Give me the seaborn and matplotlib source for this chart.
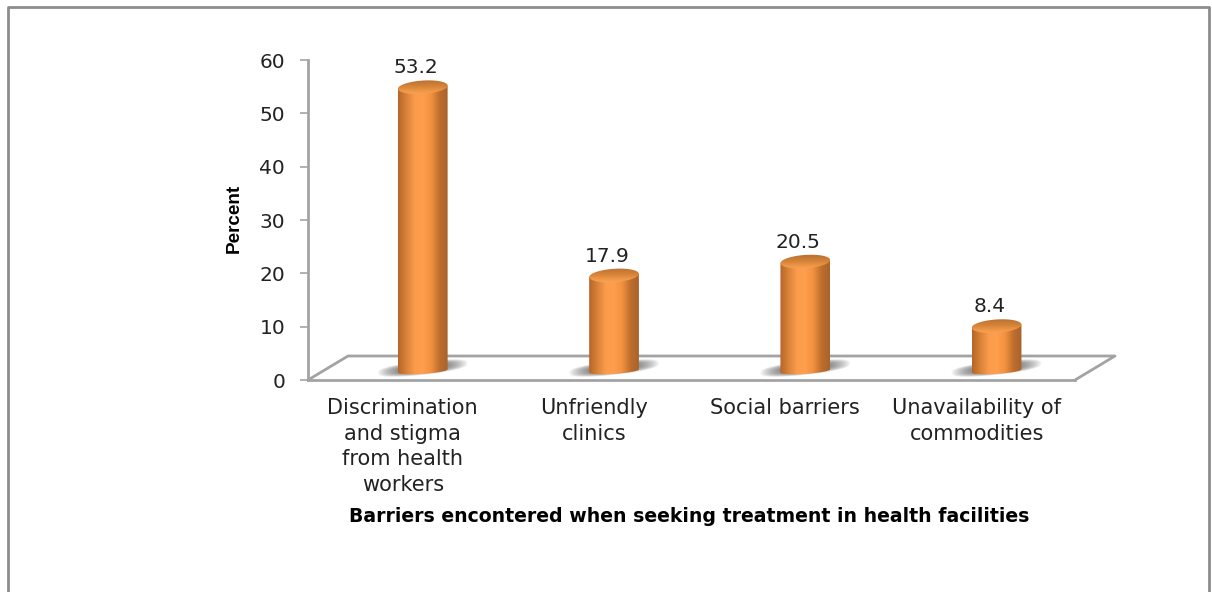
import matplotlib
matplotlib.use("Agg")
import matplotlib.pyplot as plt
import numpy as np
import seaborn as sns
from matplotlib.colors import LinearSegmentedColormap
from matplotlib.lines import Line2D
from matplotlib.patches import Polygon
from matplotlib.transforms import ScaledTranslation

categories = ["Discrimination", "Unfriendly", "Social", "Unavailability"]
tick_labels = [
    "Discrimination\nand stigma\nfrom health\nworkers",
    "Unfriendly\nclinics",
    "Social barriers",
    "Unavailability of\ncommodities",
]
values = [53.2, 17.9, 20.5, 8.4]
y_ticks = [0, 10, 20, 30, 40, 50, 60]

sns.set_theme(style="white")
plt.rcParams["font.family"] = ["DejaVu Sans"]

GRAY = "#A3A3A3"
W, H = 1212, 592
fig = plt.figure(figsize=(W / 100, H / 100), dpi=100)
ax = fig.add_axes([308 / W, (H - 380) / H, 767 / W, 320 / H])

sns.barplot(x=categories, y=values, bottom=1.7, width=0.26, color="#F79646",
            saturation=1, ax=ax, zorder=3)

xlim = (-0.6, 3.41)
ax.set_xlim(xlim)
ax.set_ylim(0, 60)
ax.set_yticks(y_ticks)
ax.set_xticks(range(len(tick_labels)))
ax.set_xticklabels(tick_labels, fontsize=15, color="#222222", linespacing=1.35)
ax.set_yticklabels([str(t) for t in y_ticks], fontsize=14.5, color="#222222")
ax.tick_params(axis="y", length=5.5, width=1.2, color=GRAY, left=True, pad=11)
ax.tick_params(axis="x", length=0, pad=13)
for lab in ax.get_xticklabels():
    lab.set_transform(lab.get_transform() + ScaledTranslation(-0.2, 0, fig.dpi_scale_trans))

for side in ["top", "right"]:
    ax.spines[side].set_visible(False)
for side in ["left", "bottom"]:
    ax.spines[side].set_color(GRAY)
    ax.spines[side].set_linewidth(2)

ax.set_xlabel("Barriers encontered when seeking treatment in health facilities",
              fontsize=13.6, fontweight="bold", color="black")
ax.xaxis.set_label_coords(0.497, -0.397)
ax.set_ylabel("Percent", fontsize=13.6, fontweight="bold", color="black",
              family="Liberation Sans")
ax.yaxis.set_label_coords(-0.085, 0.506)

# floor of the fake 3d box
dx, dy = 40 / 767 * (xlim[1] - xlim[0]), 24 / 320 * 60
ax.plot([xlim[0], xlim[0] + dx, xlim[1] + dx, xlim[1]], [0, dy, dy, 0],
        color=GRAY, lw=2, clip_on=False, zorder=1)

side_cmap = LinearSegmentedColormap.from_list(
    "side", ["#B4662A", "#D98238", "#FB9C4C", "#FF9F4D", "#F2913F", "#BE6E2E", "#A9622C"])
top_cmap = LinearSegmentedColormap.from_list(
    "top", ["#B8702F", "#C67A35", "#D98638", "#F0974A", "#FBA655"])
grad = np.linspace(0, 1, 128).reshape(1, -1)

for bar, val in zip(ax.patches, values):
    x0, w = bar.get_x(), bar.get_width()
    y0, y1 = bar.get_y(), bar.get_y() + bar.get_height()
    xc = x0 + w / 2
    bar.set_visible(False)

    # shadow on the floor, many thin layers so it fades out smoothly
    t = np.linspace(0, 2 * np.pi, 120)
    for k in np.linspace(1, 0.35, 24):
        sx = xc + 0.235 * k * np.cos(t)
        sy = 2.25 + 0.9 * k * np.cos(t) + 1.3 * k * np.sign(np.sin(t)) * np.abs(np.sin(t)) ** 0.7
        ax.fill(sx, sy, color="#5A5A5A", alpha=0.06, lw=0, zorder=2)

    # cylinder side, slightly tilted like the original
    t = np.linspace(np.pi, 2 * np.pi, 50)
    px = xc + w / 2 * np.cos(t)
    py = y0 + 0.55 * np.sin(t) + 0.3 * np.cos(t)
    outline = np.vstack([np.c_[px, py], [x0 + w, y1 + 0.3], [x0, y1 - 0.3]])
    body = Polygon(outline, closed=True, transform=ax.transData, fc="none", ec="none")
    ax.add_patch(body)
    im = ax.imshow(grad, extent=[x0, x0 + w, y0 - 2, y1 + 1], cmap=side_cmap, aspect="auto", zorder=3)
    im.set_clip_path(body)

    # top cap
    t = np.linspace(0, 2 * np.pi, 100)
    cx = xc + w / 2 * np.cos(t)
    cy = y1 + 1.25 * np.sin(t) + 0.3 * np.cos(t)
    cap = Polygon(np.c_[cx, cy], closed=True, transform=ax.transData, fc="none", ec="none")
    ax.add_patch(cap)
    im2 = ax.imshow(grad.T, extent=[x0, x0 + w, y1 - 1.5, y1 + 1.5], cmap=top_cmap,
                    aspect="auto", zorder=5)
    im2.set_clip_path(cap)

    ax.annotate(f"{val}", (xc, y1 + 1.1), xytext=(-7, 4), textcoords="offset pixels",
                ha="center", va="bottom", fontsize=14.5, color="#222222",
                annotation_clip=False, zorder=6)

ax.set_xlim(xlim)
ax.set_ylim(0, 60)

# picture frame round the chart, open at the bottom
fig.add_artist(Line2D([x / W for x in [7.5, 7.5, 1209, 1209]],
                      [1 - y / H for y in [H, 6.5, 6.5, H]],
                      color="#8C8C8C", lw=2, transform=fig.transFigure))

fig.savefig("out.png", dpi=100)
